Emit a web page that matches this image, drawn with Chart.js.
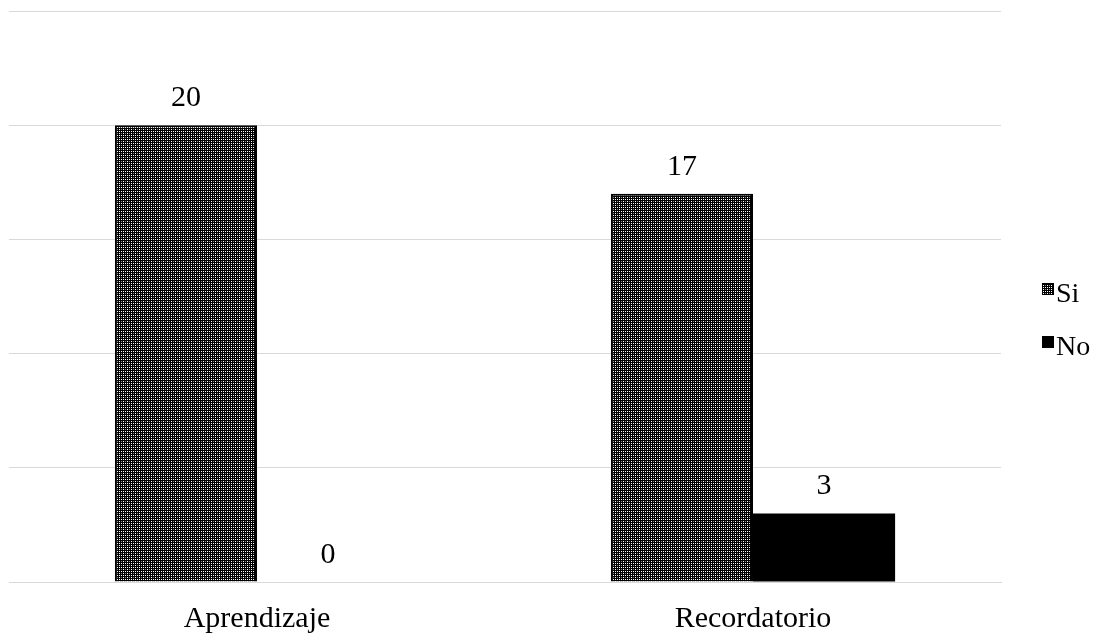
<!DOCTYPE html>
<html>
<head>
<meta charset="utf-8">
<script src="https://cdn.jsdelivr.net/npm/chart.js@4.4.0/dist/chart.umd.min.js"></script>
<style>
html,body{margin:0;padding:0;background:#fff;}
#wrap{width:1109px;height:636px;position:relative;}
</style>
</head>
<body>
<div id="wrap"><canvas id="c"></canvas></div>
<script>
const categories = ['Aprendizaje', 'Recordatorio'];
const siValues = [20, 17];
const noValues = [0, 3];
const seriesNames = ['Si', 'No'];

const FONT = '"Liberation Serif", "Times New Roman", serif';

function makePattern() {
  const t = document.createElement('canvas');
  t.width = 4; t.height = 4;
  const g = t.getContext('2d');
  g.fillStyle = '#ffffff';
  g.fillRect(0, 0, 4, 4);
  g.fillStyle = '#000000';
  g.fillRect(0, 0, 1, 4);
  g.fillRect(2, 0, 1, 4);
  g.fillRect(0, 0, 4, 1);
  g.fillRect(0, 2, 4, 1);
  g.fillStyle = '#888888';
  g.fillRect(1, 1, 1, 1);
  return g.createPattern(t, 'repeat');
}

const labelPlugin = {
  id: 'valLabels',
  afterDatasetsDraw(chart) {
    const ctx = chart.ctx;
    ctx.save();
    ctx.font = '30px ' + FONT;
    ctx.fillStyle = '#000';
    ctx.textAlign = 'center';
    ctx.textBaseline = 'alphabetic';
    chart.data.datasets.forEach((ds, i) => {
      const meta = chart.getDatasetMeta(i);
      meta.data.forEach((bar, j) => {
        ctx.fillText(String(ds.data[j]), bar.x, bar.y - 19);
      });
    });
    ctx.restore();
  }
};

const legendPlugin = {
  id: 'sideLegend',
  afterDraw(chart) {
    const ctx = chart.ctx;
    const area = chart.chartArea;
    ctx.save();
    ctx.font = '28px ' + FONT;
    ctx.textAlign = 'left';
    ctx.textBaseline = 'alphabetic';
    const boxX = area.right + 41;
    const boxSize = 12;
    const firstTop = 283;
    const step = 53;
    chart.data.datasets.forEach((ds, i) => {
      const top = firstTop + i * step;
      ctx.fillStyle = ds.backgroundColor;
      ctx.fillRect(boxX, top, boxSize, boxSize);
      ctx.strokeStyle = '#000';
      ctx.lineWidth = 1;
      ctx.strokeRect(boxX + 0.5, top + 0.5, boxSize - 1, boxSize - 1);
      ctx.fillStyle = '#000';
      ctx.fillText(ds.label, boxX + boxSize + 2, top + 18.5);
    });
    ctx.restore();
  }
};

const ctx = document.getElementById('c').getContext('2d');
new Chart(ctx, {
  type: 'bar',
  data: {
    labels: categories,
    datasets: [
      { label: seriesNames[0], data: siValues, backgroundColor: makePattern(), borderColor: '#000', borderWidth: 2 },
      { label: seriesNames[1], data: noValues, backgroundColor: '#000', borderColor: '#000', borderWidth: 0 }
    ]
  },
  options: {
    responsive: true,
    maintainAspectRatio: false,
    animation: false,
    layout: { padding: { left: 9, top: 11, right: 108, bottom: 2 } },
    categoryPercentage: 0.573,
    barPercentage: 1.0,
    plugins: {
      legend: { display: false },
      tooltip: { enabled: false }
    },
    scales: {
      x: {
        grid: { display: false },
        border: { display: true, color: '#d9d9d9', width: 1 },
        ticks: { color: '#000', padding: 11, font: { family: FONT, size: 30 } },
        afterFit(scale) { scale.height = 52; }
      },
      y: {
        min: 0, max: 25,
        ticks: { display: false, stepSize: 5 },
        grid: { color: '#d9d9d9', lineWidth: 1, drawTicks: false },
        border: { display: false }
      }
    }
  },
  plugins: [labelPlugin, legendPlugin]
});
</script>
</body>
</html>
